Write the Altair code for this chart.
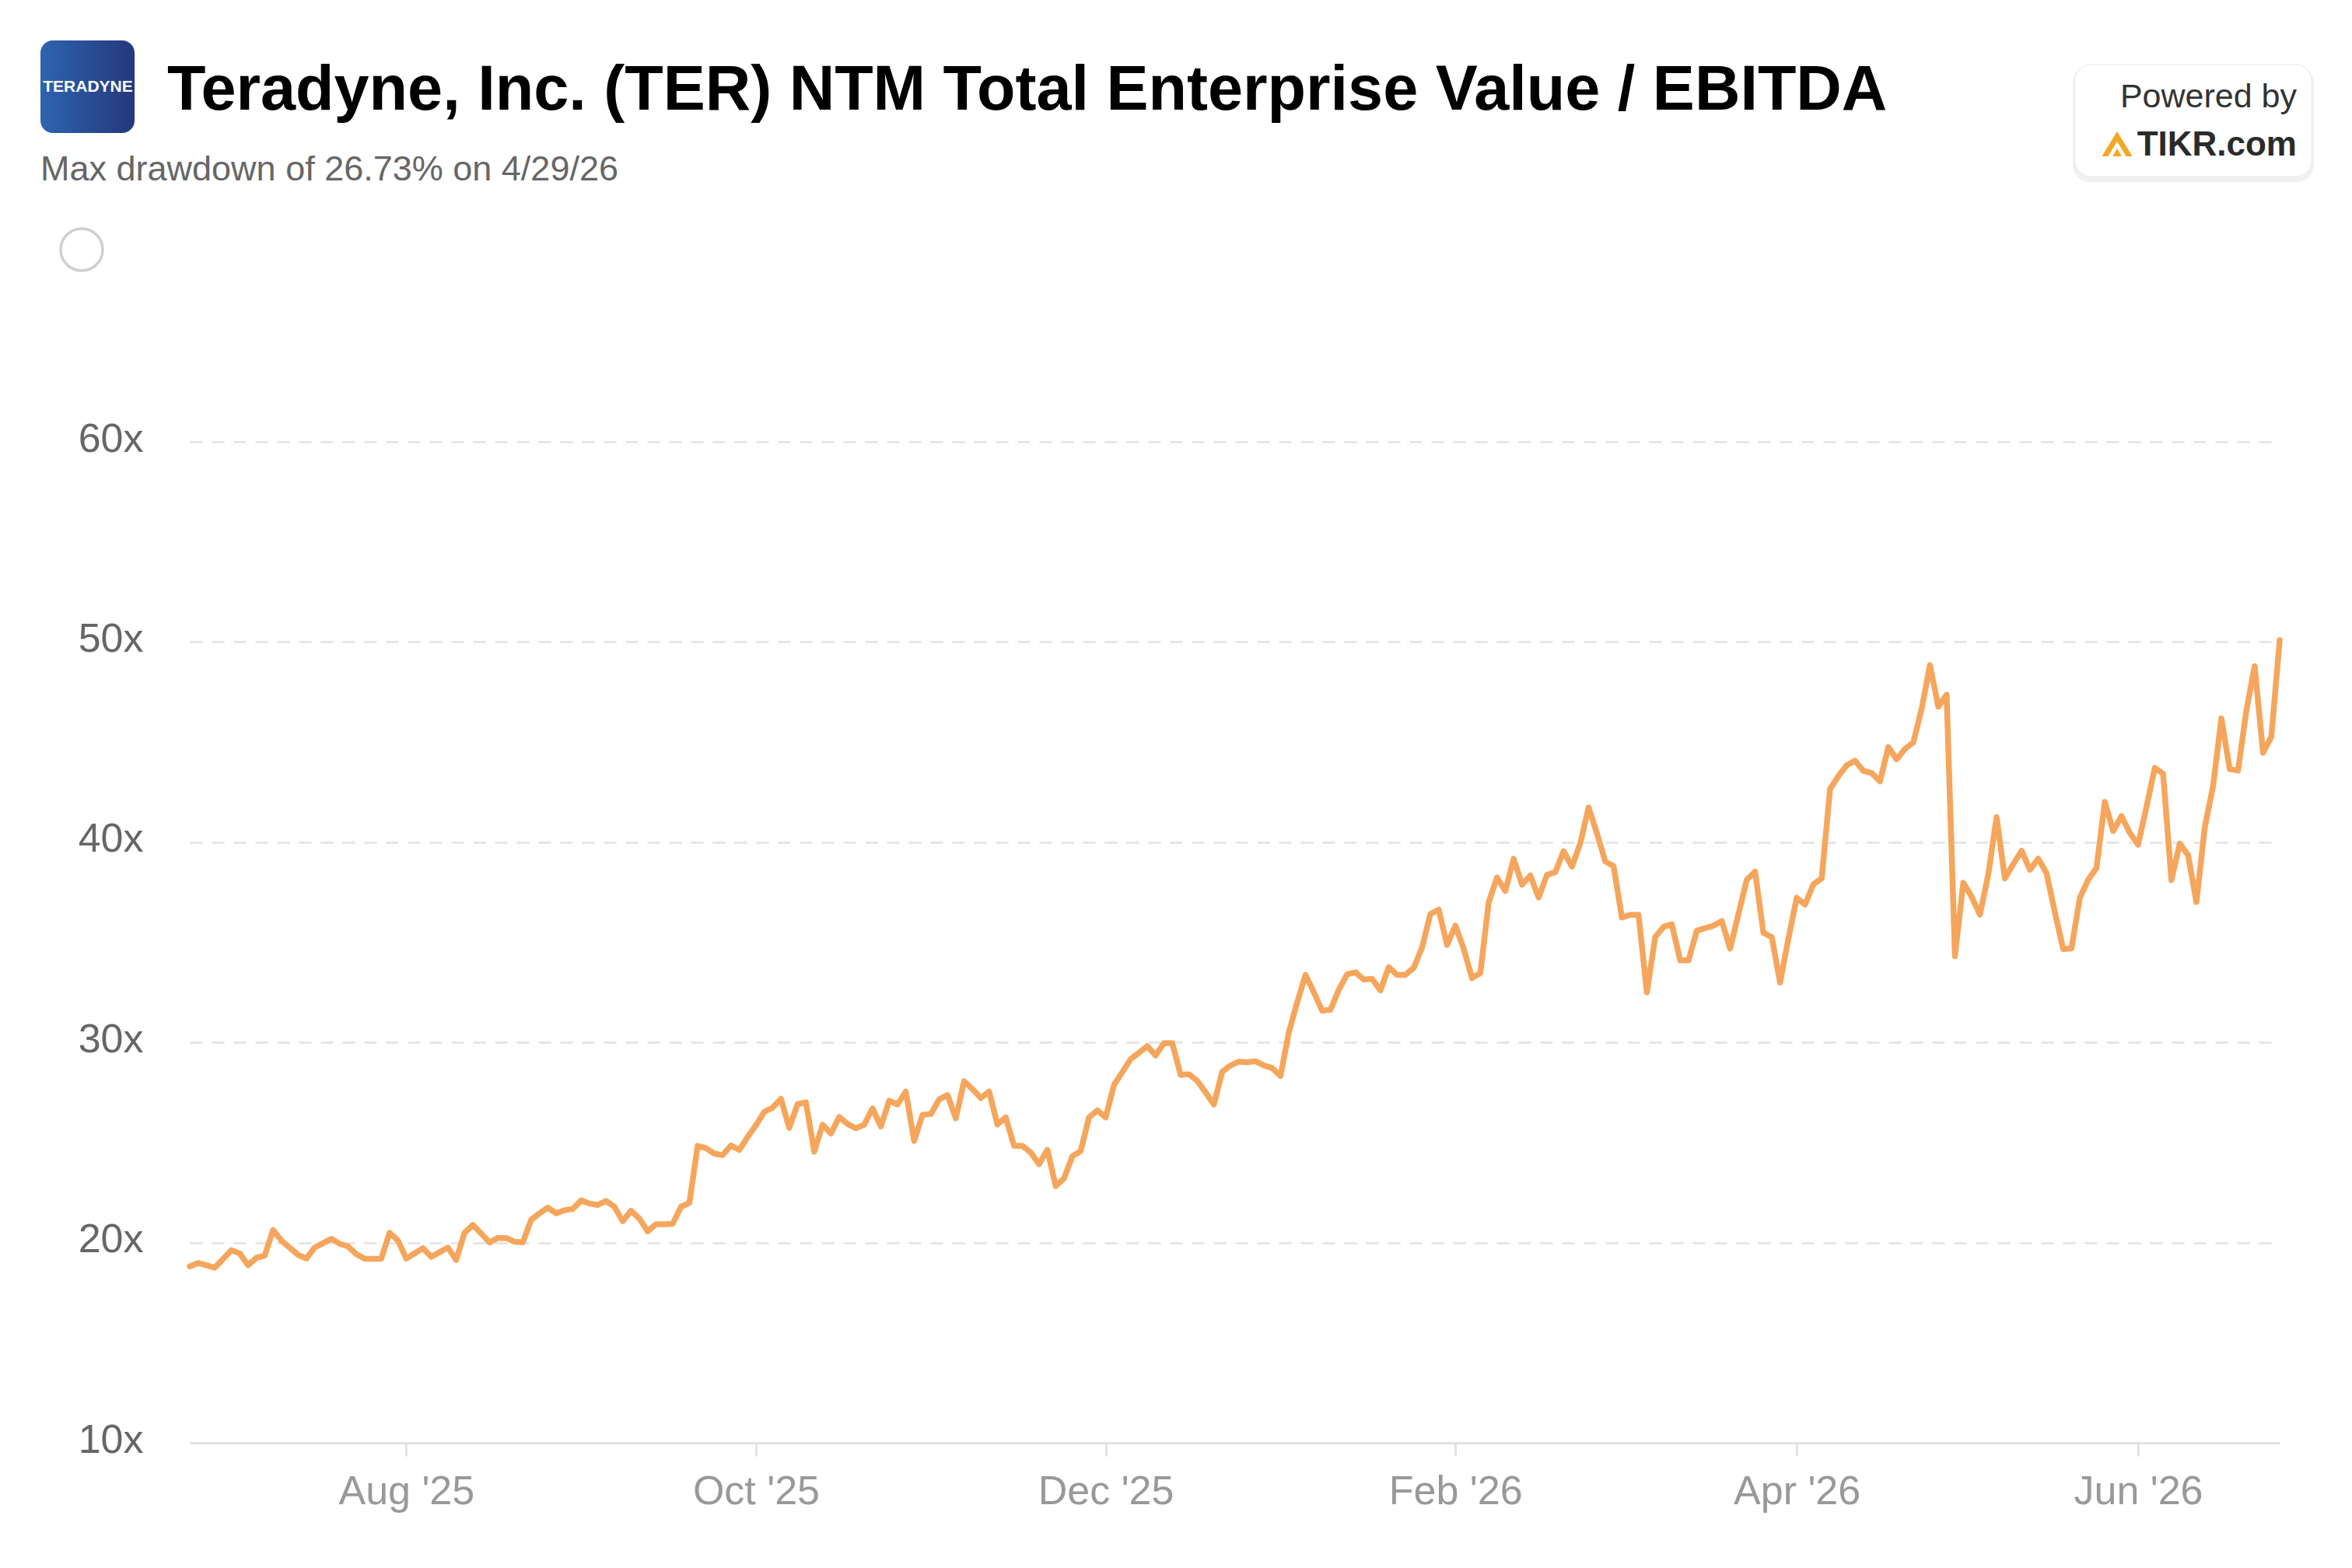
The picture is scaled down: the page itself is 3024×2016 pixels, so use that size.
import altair as alt
import pandas as pd

# ---- data, one value per trading day ----
first_day = "2025-06-25"
last_day = "2026-06-25"
market_holidays = ["2025-07-04", "2025-09-01", "2025-11-27", "2025-12-25", "2026-01-01",
                   "2026-01-19", "2026-02-16", "2026-04-03", "2026-05-25", "2026-06-19"]

vals_jun_aug = [18.81, 18.98, 18.86, 18.75, 19.18, 19.62, 19.46, 18.87, 19.24, 19.35,
                20.62, 20.10, 19.75, 19.39, 19.20, 19.75, 19.97, 20.19, 19.94, 19.81,
                19.42, 19.20, 19.19, 19.20, 20.49, 20.10, 19.20, 19.46, 19.72, 19.29,
                19.52, 19.75, 19.13, 20.49, 20.88, 20.45, 20.01, 20.23, 20.23, 20.04,
                20.01, 21.14, 21.46, 21.75, 21.46, 21.62, 21.68]
vals_sep_oct = [22.11, 21.95, 21.88, 22.08, 21.79, 21.07, 21.59, 21.20, 20.56, 20.92,
                20.92, 20.94, 21.79, 21.98, 24.83, 24.72, 24.44, 24.37, 24.85, 24.63,
                25.28, 25.86, 26.53, 26.74, 27.18, 25.73, 26.92, 27.00, 24.54, 25.89,
                25.45, 26.27, 25.92, 25.71, 25.89, 26.70, 25.80]
vals_oct_dec = [27.09, 26.90, 27.54, 25.08, 26.38, 26.42, 27.15, 27.37, 26.21, 28.06,
                27.67, 27.22, 27.54, 25.90, 26.25, 24.83, 24.83, 24.50, 23.92, 24.63,
                22.82, 23.21, 24.31, 24.57, 26.25, 26.60, 26.25, 27.87, 28.51, 29.16,
                29.48, 29.81, 29.35, 29.96, 29.96, 28.38, 28.41]
vals_dec_feb = [28.08, 27.50, 26.90, 28.53, 28.85, 29.04, 29.01, 29.06, 28.85, 28.72,
                28.33, 30.51, 31.99, 33.37, 32.50, 31.58, 31.63, 32.63, 33.40, 33.50,
                33.14, 33.17, 32.60, 33.76, 33.37, 33.37, 33.72, 34.74, 36.41, 36.63,
                34.87, 35.83, 34.68, 33.21, 33.46, 36.99, 38.24]
vals_feb_apr = [37.56, 39.17, 37.88, 38.33, 37.24, 38.37, 38.50, 39.55, 38.78, 39.94,
                41.73, 40.45, 39.04, 38.81, 36.24, 36.37, 36.37, 32.50, 35.26, 35.77,
                35.90, 34.10, 34.10, 35.58, 35.71, 35.83, 36.06, 34.68, 36.41, 38.12,
                38.53, 35.47, 35.26, 32.99, 35.19, 37.22, 36.88, 37.90]
vals_apr_may = [38.19, 42.65, 43.30, 43.84, 44.07, 43.56, 43.45, 43.04, 44.75, 44.14,
                44.66, 44.98, 46.66, 48.84, 46.77, 47.37, 34.31, 37.97, 37.28, 36.38,
                38.38, 41.25, 38.19, 38.90, 39.57, 38.62, 39.18, 38.45, 36.51, 34.66,
                34.70, 37.22, 38.12, 38.71, 42.01, 40.56, 41.30]
vals_may_jun = [40.46, 39.87, 41.76, 43.71, 43.42, 38.11, 39.93, 39.35, 37.01, 40.72,
                42.80, 46.18, 43.65, 43.58, 46.58, 48.79, 44.47, 45.27, 50.09]

y_ticks = [10, 20, 30, 40, 50, 60]
x_tick_months = [(2025, 8), (2025, 10), (2025, 12), (2026, 2), (2026, 4), (2026, 6)]
x_tick_labels = ["Aug '25", "Oct '25", "Dec '25", "Feb '26", "Apr '26", "Jun '26"]
title_text = "Teradyne, Inc. (TER) NTM Total Enterprise Value / EBITDA"
subtitle_text = "Max drawdown of 26.73% on 4/29/26"

values = (vals_jun_aug + vals_sep_oct + vals_oct_dec + vals_dec_feb
          + vals_feb_apr + vals_apr_may + vals_may_jun)
days = [d for d in pd.bdate_range(first_day, last_day)
        if d.strftime("%Y-%m-%d") not in market_holidays]
n = min(len(days), len(values))
df = pd.DataFrame({
    "idx": list(range(n)),
    "date": [d.strftime("%Y-%m-%d") for d in days[:n]],
    "value": values[:n],
})

# ordinal (trading-day) axis: ticks at the first trading day of each labelled month
tick_idx = []
for (yy, mm) in x_tick_months:
    for i, d in enumerate(days[:n]):
        if d.year == yy and d.month == mm:
            tick_idx.append(i)
            break
label_expr = '""'
for i, lab in reversed(list(zip(tick_idx, x_tick_labels))):
    label_expr = f'datum.value == {i} ? "{lab}" : ({label_expr})'

FONT = "Liberation Sans"
LINE = "#F5A65C"

line = alt.Chart(df).mark_line(color=LINE, strokeWidth=7.5, strokeJoin="round", strokeCap="round").encode(
    x=alt.X("idx:Q", scale=alt.Scale(domain=[0, n - 1], nice=False, zero=False), axis=alt.Axis(
        values=tick_idx, labelExpr=label_expr, title=None, grid=False,
        domainColor="#e3e3e3", domainWidth=3, tickColor="#e3e3e3", tickWidth=3, tickSize=17,
        labelFontSize=52, labelColor="#999999", labelPadding=20, labelFont=FONT,
        labelLimit=600, labelOverlap=False, labelFlush=False)),
    y=alt.Y("value:Q", scale=alt.Scale(domain=[10, 60], nice=False, zero=False), axis=alt.Axis(
        values=y_ticks, labelExpr="datum.value + 'x'", title=None, domain=False, ticks=False,
        grid=True, gridDash=[16, 12], gridColor="#e6e6e6", gridWidth=3,
        labelFontSize=52, labelColor="#666666", labelPadding=60, labelFont=FONT,
        labelOffset=-4)),
)

one = pd.DataFrame({"k": [0]})

logo_bg = alt.Chart(one).mark_rect(
    cornerRadius=16,
    fill=alt.Gradient(gradient="linear",
                      stops=[alt.GradientStop(color="#2e64b0", offset=0),
                             alt.GradientStop(color="#25377c", offset=1)],
                      x1=0, x2=1, y1=0, y2=0),
).encode(x=alt.value(-192), x2=alt.value(-71), y=alt.value(-516), y2=alt.value(-397))

logo_txt = alt.Chart(one).mark_text(text="TERADYNE", font=FONT, fontWeight="bold", fontSize=21,
                                    color="white", align="center", baseline="middle").encode(
    x=alt.value(-131), y=alt.value(-456))

title = alt.Chart(one).mark_text(text=title_text, font=FONT, fontWeight="bold", fontSize=81,
                                 color="#000000", align="left", baseline="alphabetic").encode(
    x=alt.value(-29), y=alt.value(-427))

subtitle = alt.Chart(one).mark_text(text=subtitle_text, font=FONT, fontSize=45,
                                    color="#666666", align="left", baseline="alphabetic").encode(
    x=alt.value(-192), y=alt.value(-336))

circle = alt.Chart(one).mark_point(shape="circle", filled=False, size=2916, stroke="#cfcfcf",
                                   strokeWidth=3.5, opacity=1).encode(
    x=alt.value(-139), y=alt.value(-247))

box_shadow = alt.Chart(one).mark_rect(cornerRadius=22, fill="#000000", opacity=0.06).encode(
    x=alt.value(2421), x2=alt.value(2731), y=alt.value(-484), y2=alt.value(-334))
box = alt.Chart(one).mark_rect(cornerRadius=20, fill="#ffffff", stroke="#f0f0f0", strokeWidth=1.5).encode(
    x=alt.value(2424), x2=alt.value(2728), y=alt.value(-485), y2=alt.value(-341))
powered = alt.Chart(one).mark_text(text="Powered by", font=FONT, fontSize=43, color="#333333",
                                   align="right", baseline="alphabetic").encode(
    x=alt.value(2709), y=alt.value(-430))
tikr = alt.Chart(one).mark_text(text="TIKR.com", font=FONT, fontWeight="bold", fontSize=44,
                                color="#2b2b2b", align="right", baseline="alphabetic").encode(
    x=alt.value(2709), y=alt.value(-368))
icon_path = ("M -1 0.82 L 0 -0.82 L 1 0.82 L 0.6 0.82 L 0 -0.15 L -0.6 0.82 Z "
             "M -0.3 0.82 L 0 0.3 L 0.3 0.82 Z")
icon = alt.Chart(one).mark_point(shape=icon_path, filled=True, fill="#F5A623", size=1521,
                                 strokeWidth=0, opacity=1).encode(
    x=alt.value(2478), y=alt.value(-383))

chart = alt.layer(
    line, logo_bg, logo_txt, title, subtitle, circle, box_shadow, box, powered, tikr, icon
).properties(
    width=2687, height=1287,
    padding={"left": 236, "top": 560, "right": 70, "bottom": 130},
    autosize=alt.AutoSizeParams(type="none"),
    background="white",
).configure_view(stroke=None)

chart.save("out.html", embed_options={"renderer": "svg", "actions": False})
